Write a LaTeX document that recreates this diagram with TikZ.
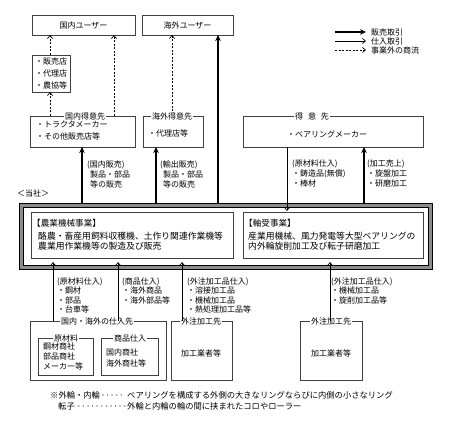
\documentclass[tikz,border=0pt]{standalone}
\usepackage{fontspec}
\setmainfont{Noto Sans CJK JP}
\usetikzlibrary{arrows.meta}
\newcommand\mydots{\leaders\hbox to 4.6pt{\hss\textperiodcentered\hss}\hfill}
\begin{document}
\begin{tikzpicture}[x=1pt,y=-1pt,
  font=\fontsize{8}{10}\selectfont,
  bx/.style={draw=black!75, line width=0.6pt, inner sep=0pt, outer sep=0pt, anchor=north west},
  tag/.style={fill=white, inner sep=1pt, font=\fontsize{8}{9}\selectfont},
  txt/.style={inner sep=0pt, anchor=north west, align=left, font=\fontsize{8}{10}\selectfont},
  ltxt/.style={inner sep=0pt, anchor=north west, align=left, font=\fontsize{8}{9.3}\selectfont},
  mtxt/.style={inner sep=0pt, anchor=north west, align=left, font=\fontsize{8.8}{10.3}\selectfont},
  sale/.style={line width=1.8pt, -{Stealth[length=6pt,width=5.5pt]}},
  buy/.style={line width=0.7pt, -{Straight Barb[length=3pt,width=5pt]}},
  ext/.style={line width=0.7pt, dash pattern=on 2pt off 1.5pt, -{Straight Barb[length=3pt,width=5pt]}}]
\useasboundingbox (0,0) rectangle (452,425);

% x positions
\foreach \n/\v in {x50/50,x53/53,x82/82,x114/114,x118/118,x156/156,x182/182,x218/218,x287/287,x330/330,x364/364}
  \coordinate (\n) at (\v,0);

% users
\node[bx, minimum width=103pt, minimum height=20pt] (du) at (32,15) {国内ユーザー};
\node[bx, minimum width=91pt, minimum height=20pt] (ou) at (142,15) {海外ユーザー};

% legend
\node[inner sep=0pt, anchor=west] (lg1) at (371,32) {販売取引};
\node[inner sep=0pt, anchor=west] (lg2) at (371,41) {仕入取引};
\node[inner sep=0pt, anchor=west] (lg3) at (371,50) {事業外の商流};
\coordinate (lg1s) at (335,32);
\coordinate (lg2s) at (335,41);
\coordinate (lg3s) at (335,50);
\draw[sale, shorten >=5pt] (lg1s) -- (lg1.west);
\draw[buy, shorten >=5pt] (lg2s) -- (lg2.west);
\draw[ext, shorten >=5pt] (lg3s) -- (lg3.west);

% shops
\node[bx, minimum width=38pt, minimum height=37pt, align=left, font=\fontsize{8}{12}\selectfont] (shop) at (32,55) {・販売店\\・代理店\\・農協等};

% customers
\node[bx, minimum width=105pt, minimum height=31pt] (dc) at (30,116) {};
\node[tag] (dctag) at (85,116) {国内得意先};
\node[txt, font=\fontsize{8}{12}\selectfont] (dct) at (36,120.5) {・トラクタメーカー\\・その他販売店等};

\node[bx, minimum width=60pt, minimum height=31pt] (oc) at (143,116) {};
\node[tag] (octag) at (172,116) {海外得意先};
\node[inner sep=0pt, anchor=west] (oct) at (148,133) {・代理店等};

\node[bx, minimum width=180pt, minimum height=31pt] (cc) at (243,116) {};
\node[tag] (cctag) at (312,116) {得\hspace{0.6em}意\hspace{0.6em}先};
\node[inner sep=0pt] (cct) at (327,134) {・ベアリングメーカー};

% company frame
\node[inner sep=0pt, anchor=west] (tosha) at (17,193) {＜当社＞};
\node[inner sep=0pt, outer sep=0pt, anchor=north west, minimum width=414pt, minimum height=67pt] (frame) at (19,203) {};
\draw[line width=4.5pt, black!45] ([shift={(2.25,2.25)}]frame.north west) rectangle ([shift={(-2.25,-2.25)}]frame.south east);
\draw[line width=1.4pt, black] ([shift={(0.7,0.7)}]frame.north west) rectangle ([shift={(-0.7,-0.7)}]frame.south east);
\draw[line width=0.6pt, black] ([shift={(4.5,4.5)}]frame.north west) rectangle ([shift={(-4.5,-4.5)}]frame.south east);

\node[bx, fill=white, minimum width=202pt, minimum height=46pt] (A) at (31,212) {};
\node[bx, fill=white, minimum width=180pt, minimum height=46pt] (B) at (243,212) {};
\node[inner sep=0pt, anchor=west, font=\fontsize{8.6}{10}\selectfont] (At) at (32,223) {【農業機械事業】};
\node[mtxt] (Ab) at (38,232) {酪農・畜産用飼料収穫機、土作り関連作業機等\\農業用作業機等の製造及び販売};
\node[inner sep=0pt, anchor=west, font=\fontsize{8.6}{10}\selectfont] (Bt) at (244,223) {【軸受事業】};
\node[mtxt] (Bb) at (248,232) {産業用機械、風力発電等大型ベアリングの\\内外輪旋削加工及び転子研磨加工};

% sales arrows
\draw[sale] (frame.north -| x82) -- (dc.south -| x82);
\draw[sale] (frame.north -| x156) -- (oc.south -| x156);
\draw[sale] (frame.north -| x218) -- (ou.south -| x218);
\draw[sale] (frame.north -| x364) -- (cc.south -| x364);
\draw[buy, shorten >=1pt] (cc.south -| x287) -- (B.north -| x287);

% external flow
\draw[ext] (shop.north -| x50) -- (du.south -| x50);
\draw[ext] (dc.north -| x50) -- (shop.south -| x50);
\draw[ext] (dc.north -| x114) -- (du.south -| x114);
\draw[ext] (octag.north) -- (ou.south -| octag.north);

% upper labels
\node[txt] (l1) at (87,160.5) {(国内販売)\\\hspace{3pt}製品・部品\\\hspace{3pt}等の販売};
\node[txt] (l2) at (160,160.5) {(輸出販売)\\\hspace{3pt}製品・部品\\\hspace{3pt}等の販売};
\node[txt] (l3) at (292,159.5) {(原材料仕入)\\・鋳造品(無償)\\・棒材};
\node[txt] (l4) at (367,159.5) {(加工売上)\\・旋盤加工\\・研磨加工};

% suppliers
\node[bx, minimum width=136pt, minimum height=59pt] (s1) at (30,321) {};
\node[tag] (s1tag) at (97,321) {国内・海外の仕入先};
\node[bx, minimum width=55pt, minimum height=37pt] (s1a) at (38,338) {};
\node[tag] (s1atag) at (66,338) {原材料};
\node[txt] (s1at) at (43,342.5) {鋼材商社\\部品商社\\メーカー等};
\node[bx, minimum width=57pt, minimum height=37pt] (s1b) at (101,338) {};
\node[tag] (s1btag) at (130,338) {商品仕入};
\node[txt, font=\fontsize{8}{11}\selectfont] (s1bt) at (106,348.5) {国内商社\\海外商社等};

\node[bx, minimum width=61pt, minimum height=59pt] (s2) at (171,321) {};
\node[tag] (s2tag) at (201,321) {外注加工先};
\node[inner sep=0pt] (s2t) at (201,353) {加工業者等};

\node[bx, minimum width=62pt, minimum height=59pt] (s3) at (300,321) {};
\node[tag] (s3tag) at (331,321) {外注加工先};
\node[inner sep=0pt] (s3t) at (331,353) {加工業者等};

% purchase arrows
\draw[buy, shorten >=4pt] (s1.north -| x53) -- (A.south -| x53);
\draw[buy, shorten >=4pt] (s1.north -| x118) -- (A.south -| x118);
\draw[buy, shorten >=4pt] (s2.north -| x182) -- (A.south -| x182);
\draw[buy, shorten >=4pt] (s3.north -| x330) -- (B.south -| x330);

% lower labels
\node[ltxt] (p1) at (57,277.5) {(原材料仕入)\\・鋼材\\・部品\\・台車等};
\node[ltxt] (p2) at (122,277.5) {(商品仕入)\\・海外商品\\・海外部品等};
\node[ltxt] (p3) at (187,277.5) {(外注加工品仕入)\\・溶接加工品\\・機械加工品\\・熱処理加工品等};
\node[ltxt] (p4) at (331,277.5) {(外注加工品仕入)\\・機械加工品\\・旋削加工品等};

% footnote
\node[inner sep=0pt, anchor=west, font=\fontsize{8.3}{10}\selectfont] (fn1) at (50,395) {\makebox[77pt][l]{※外輪・内輪\mydots}ベアリングを構成する外側の大きなリングならびに内側の小さなリング};
\node[inner sep=0pt, anchor=west, font=\fontsize{8.3}{10}\selectfont] (fn2) at (58,406) {\makebox[69pt][l]{転子\mydots}外輪と内輪の輪の間に挟まれたコロやローラー};
\end{tikzpicture}
\end{document}
